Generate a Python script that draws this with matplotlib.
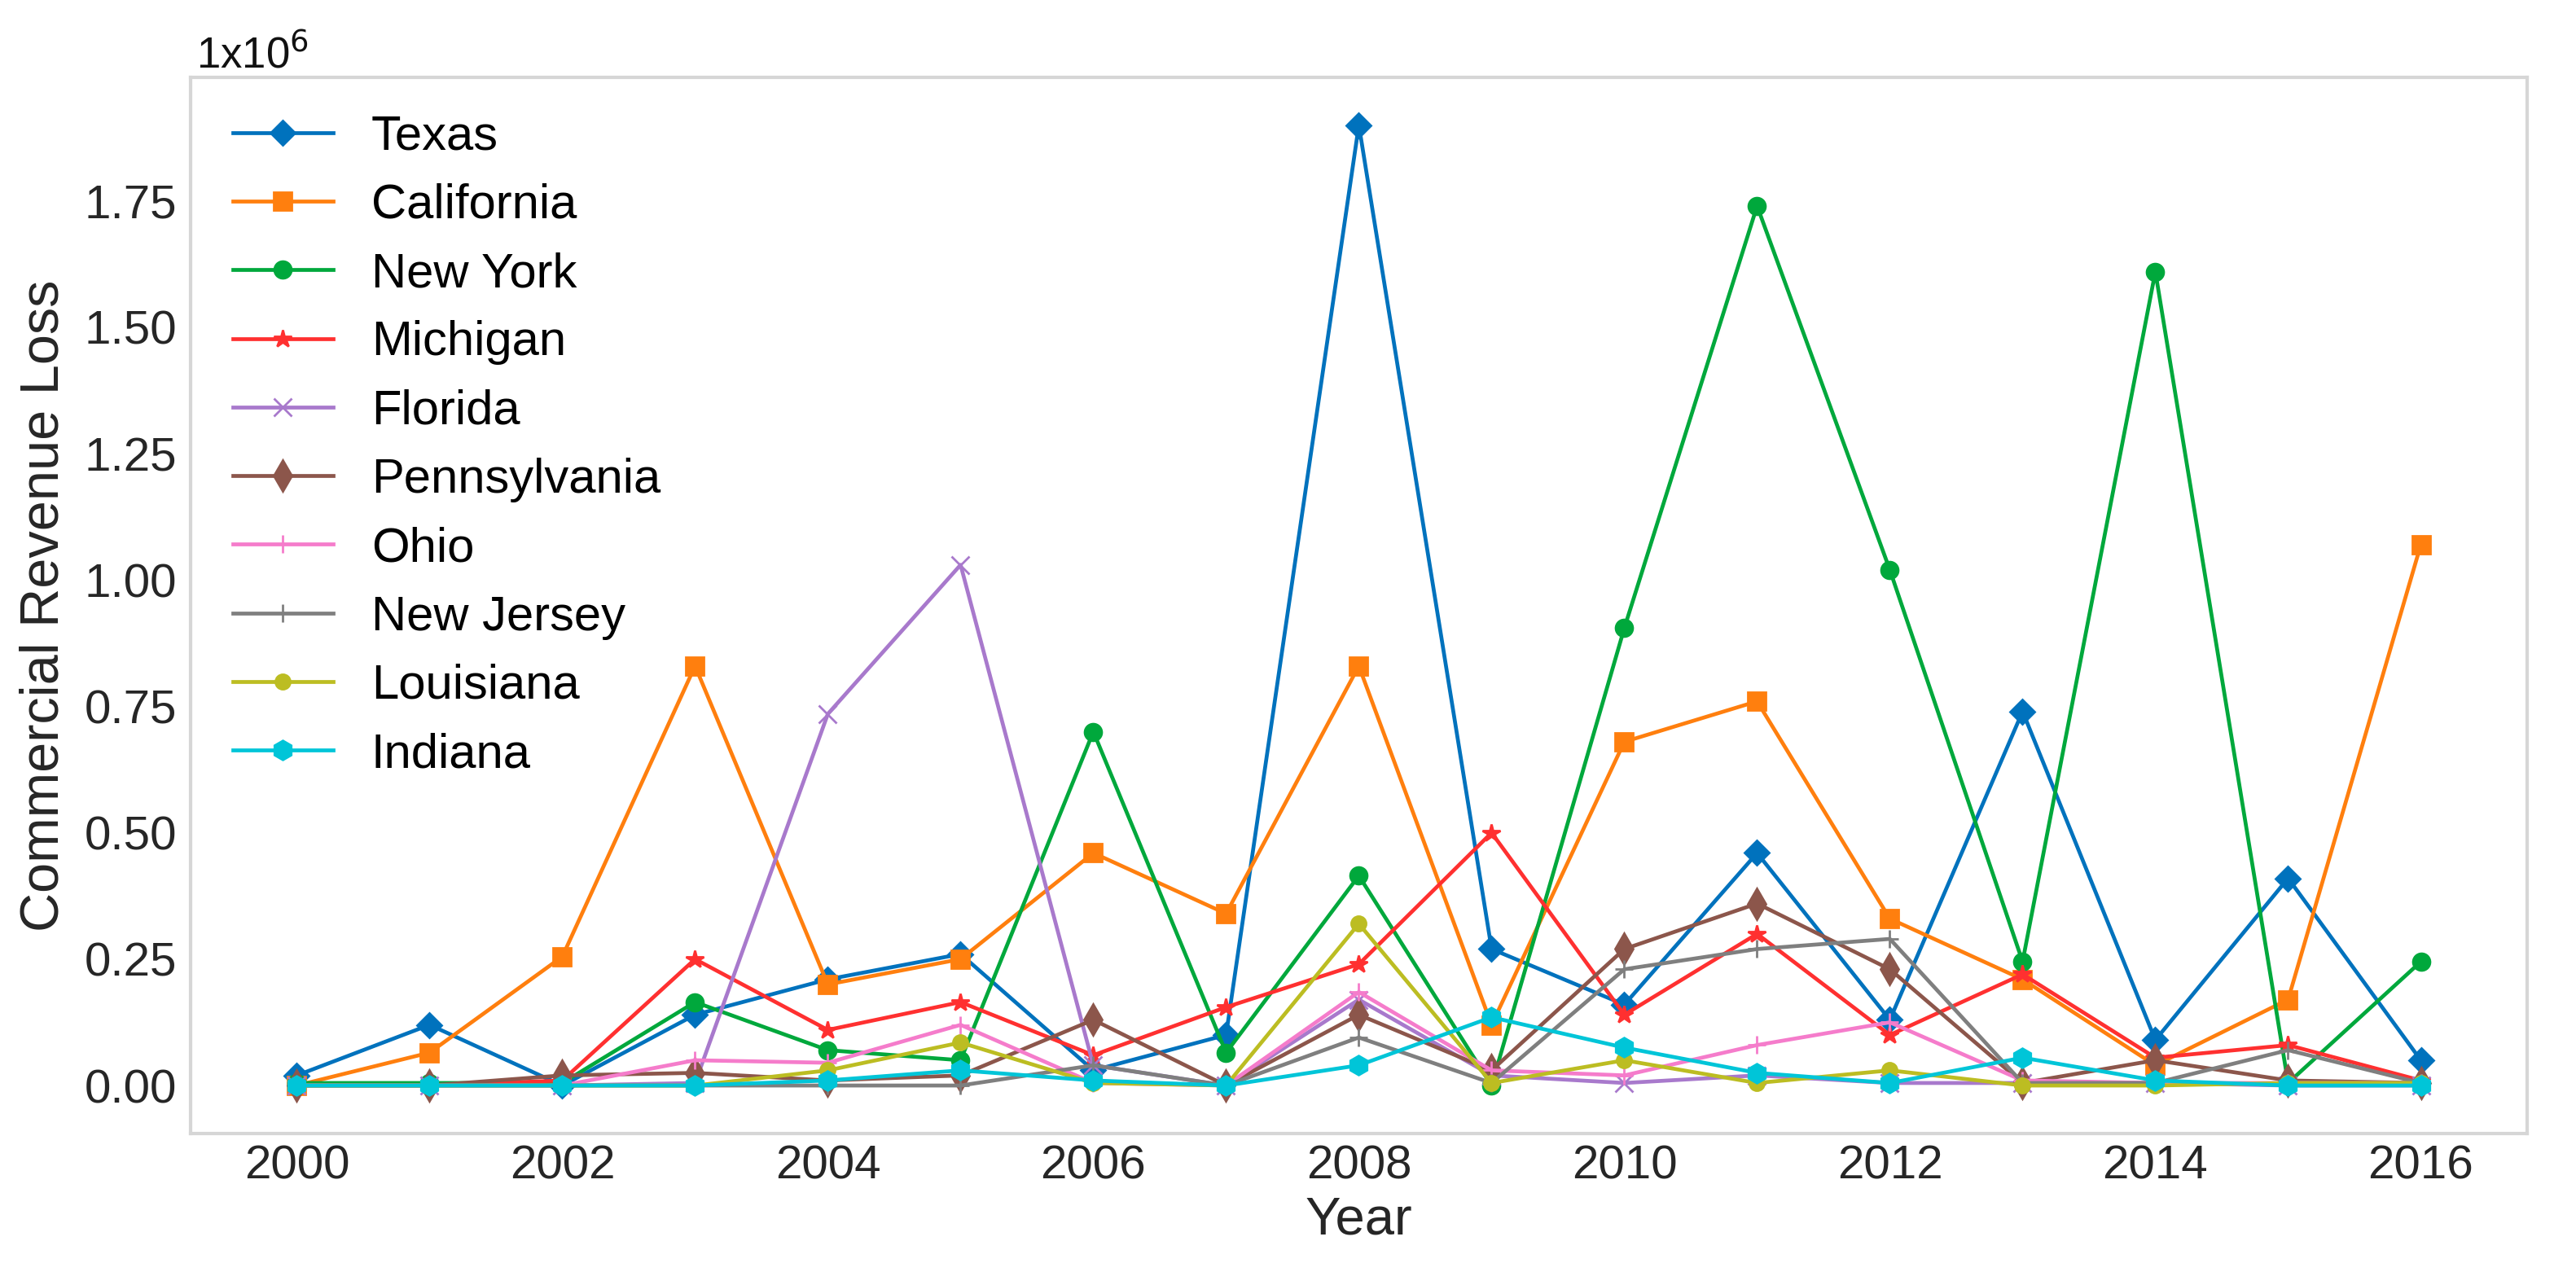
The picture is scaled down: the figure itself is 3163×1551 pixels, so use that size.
import numpy as np
import matplotlib
matplotlib.use("Agg")
import matplotlib.pyplot as plt

plt.rcParams['font.family'] = ['Liberation Sans', 'DejaVu Sans']

years = np.arange(2000, 2017)

# values in units of 1e6
texas = [0.02, 0.12, 0.0, 0.14, 0.21, 0.26, 0.03, 0.10, 1.90, 0.27, 0.16, 0.46, 0.13, 0.74, 0.09, 0.41, 0.05]
california = [0.0, 0.065, 0.255, 0.83, 0.20, 0.25, 0.46, 0.34, 0.83, 0.12, 0.68, 0.76, 0.33, 0.21, 0.04, 0.17, 1.07]
new_york = [0.005, 0.005, 0.005, 0.165, 0.07, 0.05, 0.70, 0.065, 0.415, 0.0, 0.905, 1.74, 1.02, 0.245, 1.61, 0.005, 0.245]
michigan = [0.0, 0.0, 0.01, 0.25, 0.11, 0.165, 0.06, 0.155, 0.24, 0.50, 0.14, 0.30, 0.10, 0.22, 0.055, 0.08, 0.01]
florida = [0.0, 0.0, 0.0, 0.005, 0.735, 1.03, 0.04, 0.0, 0.17, 0.02, 0.005, 0.02, 0.005, 0.005, 0.005, 0.0, 0.0]
pennsylvania = [0.0, 0.0, 0.02, 0.025, 0.01, 0.02, 0.13, 0.0, 0.14, 0.03, 0.27, 0.36, 0.23, 0.005, 0.05, 0.01, 0.005]
ohio = [0.0, 0.0, 0.0, 0.05, 0.045, 0.12, 0.005, 0.0, 0.185, 0.03, 0.02, 0.08, 0.125, 0.01, 0.005, 0.005, 0.005]
new_jersey = [0.0, 0.0, 0.0, 0.0, 0.0, 0.0, 0.04, 0.0, 0.095, 0.005, 0.23, 0.27, 0.29, 0.005, 0.005, 0.07, 0.005]
louisiana = [0.0, 0.0, 0.0, 0.0, 0.03, 0.085, 0.005, 0.0, 0.32, 0.005, 0.05, 0.005, 0.03, 0.0, 0.0, 0.005, 0.005]
indiana = [0.0, 0.0, 0.0, 0.0, 0.01, 0.03, 0.01, 0.0, 0.04, 0.135, 0.075, 0.025, 0.005, 0.055, 0.01, 0.0, 0.0]

states = ['Texas', 'California', 'New York', 'Michigan', 'Florida',
          'Pennsylvania', 'Ohio', 'New Jersey', 'Louisiana', 'Indiana']
series = [texas, california, new_york, michigan, florida,
          pennsylvania, ohio, new_jersey, louisiana, indiana]
colors = ['#0072bd', '#ff7f0e', '#00a83c', '#ff3030', '#a879cc',
          '#8c564b', '#f57ccb', '#7f7f7f', '#bcbd22', '#00c5d8']
markers = ['D', 's', 'o', '*', 'x', 'd', '+', '+', 'o', 'h']
msizes = [7.5, 8, 7.5, 8, 8, 9.5, 8, 8, 6.5, 8.5]

fig = plt.figure(figsize=(3163 / 200, 1551 / 200), dpi=200)
ax = fig.add_axes([0.074, 0.1025, 0.907, 0.8365])

for name, vals, c, m, ms in zip(states, series, colors, markers, msizes):
    ax.plot(years, np.array(vals) * 1e6, color=c, marker=m, markersize=ms,
            linewidth=1.7, label=name)

ax.set_xticks(np.arange(2000, 2017, 2))
ax.set_yticks(np.arange(0, 1.76e6, 0.25e6))
ax.set_yticklabels(['%.2f' % v for v in np.arange(0, 1.76, 0.25)])
ax.tick_params(labelsize=21, length=0, colors='#262626')
ax.tick_params(axis='y', pad=6)
ax.tick_params(axis='x', pad=5)
ax.set_xlabel('Year', fontsize=23.5, color='#262626', labelpad=3)
ax.set_ylabel('Commercial Revenue Loss', fontsize=24, color='#262626', labelpad=6.5)
ax.text(0.0024, 1.0085, r'1x10$^{6}$', transform=ax.transAxes, fontsize=19,
        color='#111111', ha='left', va='baseline')

for s in ax.spines.values():
    s.set_color('#d6d6d6')
    s.set_linewidth(1.5)

leg = ax.legend(loc='upper left', bbox_to_anchor=(0.018, 0.9645), frameon=False,
                fontsize=21.5, handlelength=2.06, handletextpad=0.79,
                labelspacing=0.49, borderaxespad=0, borderpad=0)

fig.savefig('out.png', dpi=200)
